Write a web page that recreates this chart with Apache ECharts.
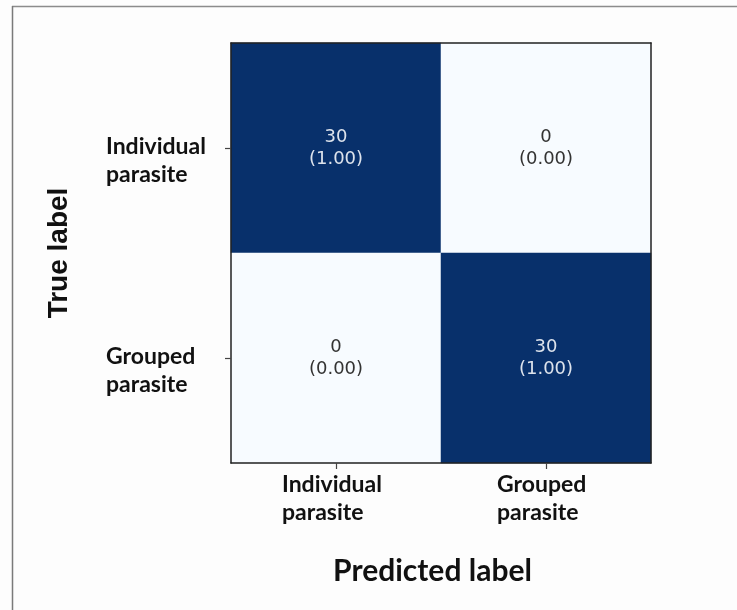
<!DOCTYPE html>
<html>
<head>
<meta charset="utf-8">
<script src="https://cdn.jsdelivr.net/npm/echarts@6/dist/echarts.min.js"></script>
<style>html,body{margin:0;padding:0;background:#fdfdfd;}#c{width:737px;height:610px;}</style>
</head>
<body>
<div id="c"></div>
<script>
const predictedLabels = ['Individual\nparasite', 'Grouped\nparasite'];
const trueLabels = ['Individual\nparasite', 'Grouped\nparasite'];
// counts[trueIndex][predIndex]
const counts = [[30, 0], [0, 30]];
const normalized = [[1.00, 0.00], [0.00, 1.00]];

const data = [];
for (let t = 0; t < trueLabels.length; t++) {
  for (let p = 0; p < predictedLabels.length; p++) {
    data.push({
      value: [p, t, counts[t][p], normalized[t][p]],
      label: { color: counts[t][p] > 15 ? '#dde3ec' : '#333' }
    });
  }
}

function richLabel(v) {
  const key = v.indexOf('Individual') === 0 ? 'ind' : 'grp';
  return v.split('\n').map(s => '{' + key + '|' + s + '}').join('\n');
}
const labelFont = { fontFamily: 'Lato', fontWeight: 'bold', fontSize: 23, color: '#111', lineHeight: 28, align: 'left' };
const frameLine = { show: true, onZero: false, lineStyle: { color: '#222', width: 1.5 } };

const chart = echarts.init(document.getElementById('c'));
chart.setOption({
  backgroundColor: '#fdfdfd',
  animation: false,
  grid: { left: 231, top: 43, width: 420, height: 420, show: false },
  xAxis: [{
    type: 'category', data: predictedLabels, position: 'bottom', z: 5,
    axisLine: frameLine,
    axisTick: { show: true, alignWithLabel: true, length: 6, lineStyle: { color: '#444', width: 1.2 } },
    splitLine: { show: false },
    axisLabel: {
      margin: 8, formatter: richLabel,
      rich: { ind: Object.assign({ width: 108 }, labelFont), grp: Object.assign({ width: 98 }, labelFont) }
    },
    name: 'Predicted label', nameLocation: 'middle', nameGap: 93,
    nameTextStyle: { fontFamily: 'Lato', fontWeight: 'bold', fontSize: 30, color: '#111', padding: [0, 17, 0, 0] }
  }, {
    type: 'category', data: predictedLabels, position: 'top', z: 5,
    axisLine: frameLine, axisTick: { show: false }, axisLabel: { show: false }, splitLine: { show: false }
  }],
  yAxis: [{
    type: 'category', data: trueLabels, inverse: true, position: 'left', z: 5,
    axisLine: frameLine,
    axisTick: { show: true, alignWithLabel: true, length: 6, lineStyle: { color: '#444', width: 1.2 } },
    splitLine: { show: false },
    axisLabel: {
      margin: 17, formatter: richLabel, padding: [26, 0, 0, 0],
      rich: { ind: Object.assign({ width: 108 }, labelFont), grp: Object.assign({ width: 108 }, labelFont) }
    },
    name: 'True label', nameLocation: 'middle', nameGap: 158, nameRotate: 90,
    nameTextStyle: { fontFamily: 'Liberation Sans', fontWeight: 'bold', fontSize: 28, color: '#111' }
  }, {
    type: 'category', data: trueLabels, inverse: true, position: 'right', z: 5,
    axisLine: frameLine, axisTick: { show: false }, axisLabel: { show: false }, splitLine: { show: false }
  }],
  visualMap: { show: false, min: 0, max: 30, dimension: 2, seriesIndex: 0, inRange: { color: ['#f7fbff', '#08306b'] } },
  series: [{
    type: 'heatmap',
    xAxisIndex: 0, yAxisIndex: 0,
    data: data,
    label: {
      show: true,
      formatter: function (p) { return p.value[2] + '\n(' + p.value[3].toFixed(2) + ')'; },
      fontFamily: 'DejaVu Sans', fontSize: 18, lineHeight: 22,
      color: '#333'
    },
    itemStyle: { borderWidth: 0 },
    emphasis: { disabled: true }
  }],
  graphic: [
    { type: 'line', shape: { x1: 12, y1: 6.5, x2: 737, y2: 6.5 }, style: { stroke: '#8c8c8c', lineWidth: 1.5 }, silent: true },
    { type: 'line', shape: { x1: 12.5, y1: 6, x2: 12.5, y2: 610 }, style: { stroke: '#7a7a7a', lineWidth: 1.5 }, silent: true }
  ]
});
</script>
</body>
</html>
